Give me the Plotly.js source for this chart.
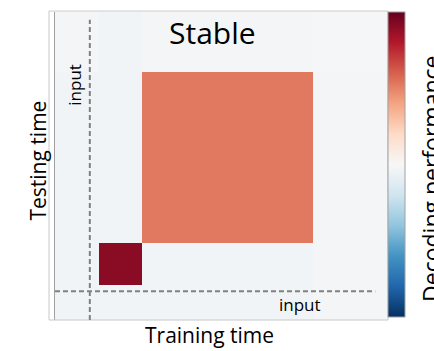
<!DOCTYPE html>
<html>
<head>
<meta charset="utf-8">
<script src="https://cdn.plot.ly/plotly-3.0.1.min.js"></script>
<style>html,body{margin:0;padding:0;background:#fff;}#chart{width:434px;height:351px;}</style>
</head>
<body>
<div id="chart"></div>
<script>
// Time-segment edges (arbitrary time units)
const trainEdges = [0, 1.0, 2.0, 5.93, 7.63];
const testEdges  = [0, 0.81, 1.79, 5.77, 7.16];
const segments = ['pre', 'stimulus', 'delay', 'post'];
// Decoding performance, one row per testing segment, columns = training segment
const perfTestPre   = [-0.03, -0.03, -0.03, -0.02];
const perfTestStim  = [-0.03,  0.91, -0.03, -0.02];
const perfTestDelay = [-0.03, -0.03,  0.53, -0.02];
const perfTestPost  = [-0.02, -0.03, -0.02, -0.01];
// Input onset markers
const inputTrain = 0.8;
const inputTest = 0.67;

const z = [perfTestPre, perfTestStim, perfTestDelay, perfTestPost];

const rdbu_r = [
  [0.0, '#053061'], [0.1, '#2166ac'], [0.2, '#4393c3'], [0.3, '#92c5de'],
  [0.4, '#d1e5f0'], [0.5, '#f7f7f7'], [0.6, '#fddbc7'], [0.7, '#f4a582'],
  [0.8, '#d6604d'], [0.9, '#b2182b'], [1.0, '#67001f']
];

const FONT = '"Open Sans", Lato, sans-serif';

const xMax = trainEdges[trainEdges.length - 1];
const yMax = testEdges[testEdges.length - 1];

const trace = {
  type: 'heatmap',
  x: trainEdges,
  y: testEdges,
  z: z,
  zmin: -1, zmax: 1,
  colorscale: rdbu_r,
  hoverinfo: 'skip',
  colorbar: {
    x: 1.003, xanchor: 'left', xpad: 0,
    y: 0.01, yanchor: 'bottom', ypad: 0,
    len: 0.99, lenmode: 'fraction',
    thickness: 17, thicknessmode: 'pixels',
    outlinewidth: 1, outlinecolor: '#a0a0a0',
    showticklabels: false, ticks: ''
  }
};

const dash = {color: '#808080', width: 2, dash: '5px,3px'};

const layout = {
  width: 434, height: 351,
  margin: {l: 55, r: 47, t: 12, b: 31, pad: 0},
  paper_bgcolor: '#ffffff', plot_bgcolor: '#ffffff',
  showlegend: false,
  xaxis: {range: [0, xMax], showticklabels: false, ticks: '', showgrid: false, zeroline: false, showline: false},
  yaxis: {range: [0, yMax], showticklabels: false, ticks: '', showgrid: false, zeroline: false,
          showline: true, linecolor: '#a0a0a0', linewidth: 1.5},
  shapes: [
    {type: 'rect', xref: 'paper', yref: 'paper', x0: -0.018, x1: 1.003, y0: 0, y1: 1.003,
     line: {color: '#c8c8c8', width: 1}, fillcolor: 'rgba(0,0,0,0)', layer: 'above'},
    {type: 'line', xref: 'x', yref: 'y', x0: inputTrain, x1: inputTrain, y0: 0, y1: 6.98, line: dash},
    {type: 'line', xref: 'x', yref: 'y', x0: 0, x1: 7.36, y0: inputTest, y1: inputTest, line: dash}
  ],
  annotations: [
    {text: 'Stable', xref: 'paper', yref: 'paper', x: 0.473, y: 0.932, showarrow: false,
     xanchor: 'center', yanchor: 'middle', font: {family: FONT, size: 30, color: '#000'}},
    {text: 'Training time', xref: 'paper', yref: 'paper', x: 0.464, y: -0.05, showarrow: false,
     xanchor: 'center', yanchor: 'middle', font: {family: FONT, size: 21, color: '#000'}},
    {text: 'Testing time', xref: 'paper', yref: 'paper', x: -0.05, y: 0.519, showarrow: false,
     textangle: -90, xanchor: 'center', yanchor: 'middle', font: {family: FONT, size: 21, color: '#000'}},
    {text: 'input', xref: 'x', yref: 'y', x: 0.46, y: 5.47, showarrow: false,
     textangle: -90, xanchor: 'center', yanchor: 'middle', font: {family: FONT, size: 17, color: '#000'}},
    {text: 'input', xref: 'x', yref: 'y', x: 5.63, y: 0.35, showarrow: false,
     xanchor: 'center', yanchor: 'middle', font: {family: FONT, size: 17, color: '#000'}},
    {text: 'Decoding performance', xref: 'paper', yref: 'paper', x: 1.1325, y: 0.458, showarrow: false,
     textangle: -90, xanchor: 'center', yanchor: 'middle', font: {family: FONT, size: 23, color: '#000'}}
  ]
};

Plotly.newPlot('chart', [trace], layout, {displayModeBar: false, staticPlot: true});
</script>
</body>
</html>
